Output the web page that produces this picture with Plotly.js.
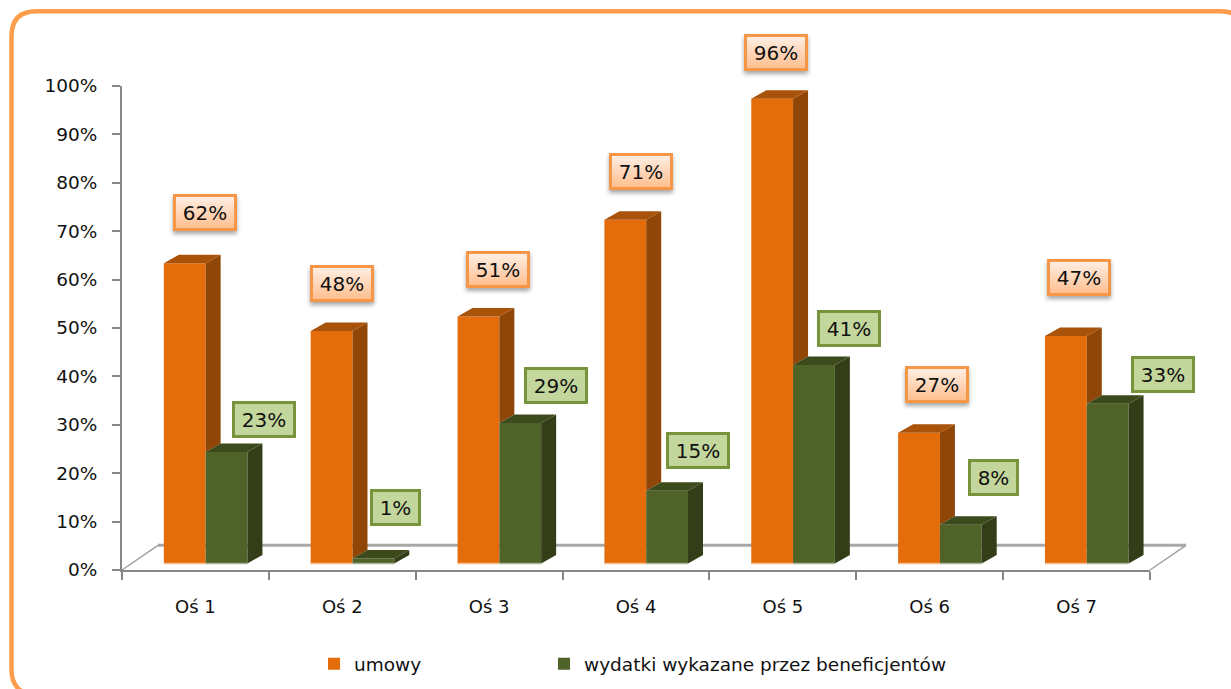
<!DOCTYPE html>
<html><head><meta charset="utf-8">
<script src="https://cdn.plot.ly/plotly-3.0.1.min.js"></script>
<style>
html,body{margin:0;padding:0;background:#fff;overflow:hidden}
#chart{width:1231px;height:689px}
g.annotation[data-index="0"] rect.bg,g.annotation[data-index="1"] rect.bg,g.annotation[data-index="2"] rect.bg,
g.annotation[data-index="3"] rect.bg,g.annotation[data-index="4"] rect.bg,g.annotation[data-index="5"] rect.bg,
g.annotation[data-index="6"] rect.bg{fill:url(#labelGrad)!important;filter:drop-shadow(0 3px 2px rgba(0,0,0,.35))}
</style></head><body>
<svg width="0" height="0" style="position:absolute"><defs>
<linearGradient id="labelGrad" x1="0" y1="0" x2="0" y2="1">
<stop offset="0" stop-color="#fff0e6"/><stop offset="1" stop-color="#ffbd8c"/></linearGradient></defs></svg>
<div id="chart"></div>
<script>
const categories=["Oś 1","Oś 2","Oś 3","Oś 4","Oś 5","Oś 6","Oś 7"];
const umowy=[62,48,51,71,96,27,47];
const wydatki=[23,1,29,15,41,8,33];
const seriesNames=["umowy","wydatki wykazane przez beneficjentów"];
const yTicks=[0,10,20,30,40,50,60,70,80,90,100];
const yTickLabels=["0%","10%","20%","30%","40%","50%","60%","70%","80%","90%","100%"];

// chart frame in pixels
const W=1231,H=689,L=122,R=1150,T=85.5,B=570.5;
const pxX=(R-L)/7, pxY=(B-T)/100;
const barPx=41.8, depthX=15/pxX, depthY=8.5/pxY, bw=barPx/pxX;
const shiftX=10.2/pxX, shiftY=6.6/pxY;
const idx=categories.map((_,i)=>i);

// label displacement from the top centre of its bar, pixels
const orangeShift=[[20,50.6],[10.5,47.5],[20,46.9],[15.7,47.9],[4.3,46.7],[17.9,48.3],[13.5,58.3]];
const greenShift=[[37.5,32.2],[22.6,51.4],[36.2,37.6],[30.8,40.5],[35.4,36.4],[33,47.5],[55.6,29.3]];

function poly(build){
  const xs=[],ys=[];
  idx.forEach(i=>{build(i).forEach(p=>{xs.push(p[0]);ys.push(p[1]);});xs.push(null);ys.push(null);});
  return {x:xs,y:ys};
}
function face(pts,color){
  return {type:'scatter',mode:'lines',xaxis:'x2',yaxis:'y2',x:pts.x,y:pts.y,fill:'toself',
    fillcolor:color,line:{width:0,color:color},showlegend:false,hoverinfo:'skip'};
}
function edge(pts,color){
  return {type:'scatter',mode:'lines',xaxis:'x2',yaxis:'y2',x:pts.x,y:pts.y,
    line:{width:1.5,color:color},showlegend:false,hoverinfo:'skip'};
}
const orangeSide=poly(i=>[[i,wydatki[i]],[i,umowy[i]],[i+depthX,umowy[i]+depthY],[i+depthX,wydatki[i]+depthY]]);
const orangeTop=poly(i=>[[i-bw,umowy[i]],[i,umowy[i]],[i+depthX,umowy[i]+depthY],[i-bw+depthX,umowy[i]+depthY]]);
const greenSide=poly(i=>[[i+bw,0],[i+bw,wydatki[i]],[i+bw+depthX,wydatki[i]+depthY],[i+bw+depthX,depthY]]);
const greenTop=poly(i=>[[i,wydatki[i]],[i+bw,wydatki[i]],[i+bw+depthX,wydatki[i]+depthY],[i+depthX,wydatki[i]+depthY]]);
const orangeBase=poly(i=>[[i-bw,0],[i,0]]);
const greenBase=poly(i=>[[i,0],[i+bw,0]]);

const traces=[
 {type:'scatter',mode:'markers',x:categories,y:categories.map(()=>0),marker:{opacity:0},showlegend:false,hoverinfo:'skip'},
 {type:'bar',name:seriesNames[0],x:idx,y:umowy,xaxis:'x2',yaxis:'y2',marker:{color:'#e46c0a'},width:bw,offset:-bw,hoverinfo:'skip',showlegend:true,legend:'legend'},
 {type:'bar',name:seriesNames[1],x:idx,y:wydatki,xaxis:'x2',yaxis:'y2',marker:{color:'#4f6228'},width:bw,offset:0,hoverinfo:'skip',showlegend:true,legend:'legend2'},
 face(orangeSide,'#8f4606'),face(orangeTop,'#a8520a'),
 face(greenSide,'#333d18'),face(greenTop,'#3c4a1c'),
 edge(orangeBase,'#f8bd8e'),edge(greenBase,'#a9b494')
];

function label(v,i,series,sh,bg,border,w){
  return {x:i+(series===0?-bw/2:bw/2),y:v,xref:'x2',yref:'y2',text:v+'%',showarrow:false,
    xshift:sh[0],yshift:sh[1],width:w,height:31,align:'center',valign:'middle',bgcolor:bg,
    bordercolor:border,borderwidth:3,borderpad:0,
    font:{family:'DejaVu Sans',size:20,color:'#111'}};
}
const annotations=[
 ...umowy.map((v,i)=>label(v,i,0,orangeShift[i],'#ffd5b8','#f79646',58)),
 ...wydatki.map((v,i)=>label(v,i,1,greenShift[i],'#c3d69b','#77933c',v<10?45:58))
];

const px=x=>(x-L)/(R-L), py=y=>(B-y)/(B-T);
const floorY=545.8, floorDx=36;
const floorLine=(x0,y0,x1,y1,c,w)=>({type:'line',xref:'paper',yref:'paper',layer:'below',
  x0:px(x0),y0:py(y0),x1:px(x1),y1:py(y1),line:{color:c,width:w}});
const rf=[11.5,10.5,1245,695,25];
const fp=(x,y)=>px(x).toFixed(5)+','+py(y).toFixed(5);
const framePath='M'+fp(rf[0]+rf[4],rf[1])+' L'+fp(rf[2]-rf[4],rf[1])+' Q'+fp(rf[2],rf[1])+' '+fp(rf[2],rf[1]+rf[4])+
 ' L'+fp(rf[2],rf[3]-rf[4])+' Q'+fp(rf[2],rf[3])+' '+fp(rf[2]-rf[4],rf[3])+
 ' L'+fp(rf[0]+rf[4],rf[3])+' Q'+fp(rf[0],rf[3])+' '+fp(rf[0],rf[3]-rf[4])+
 ' L'+fp(rf[0],rf[1]+rf[4])+' Q'+fp(rf[0],rf[1])+' '+fp(rf[0]+rf[4],rf[1])+' Z';

const legendFont={family:'DejaVu Sans',size:18.5,color:'#111'};
const layout={
 width:W,height:H,paper_bgcolor:'#fff',plot_bgcolor:'rgba(0,0,0,0)',
 margin:{l:L,r:W-R,t:T,b:H-B,pad:0,autoexpand:false},
 barmode:'overlay',
 xaxis:{type:'category',categoryorder:'array',categoryarray:categories,range:[-0.5,6.5],tickson:'boundaries',showgrid:false,zeroline:false,
   showline:true,linecolor:'#868686',linewidth:2,ticks:'outside',ticklen:8,tickwidth:2,tickcolor:'#868686',
   tickfont:{family:'DejaVu Sans',size:18,color:'#111'},ticklabelstandoff:19},
 yaxis:{range:[0,100],tickmode:'array',tickvals:yTicks,ticktext:yTickLabels,showgrid:false,zeroline:false,
   showline:true,linecolor:'#868686',linewidth:2,ticks:'outside',ticklen:8,tickwidth:2,tickcolor:'#868686',
   tickfont:{family:'DejaVu Sans',size:18.5,color:'#111'},ticklabelstandoff:11},
 xaxis2:{type:'linear',overlaying:'x',visible:false,range:[-0.5-shiftX,6.5-shiftX]},
 yaxis2:{type:'linear',overlaying:'y',visible:false,range:[-shiftY,100-shiftY]},
 showlegend:true,
 legend:{x:px(314),y:py(646),xanchor:'left',yanchor:'top',font:legendFont,bgcolor:'rgba(0,0,0,0)'},
 legend2:{x:px(544),y:py(646),xanchor:'left',yanchor:'top',font:legendFont,bgcolor:'rgba(0,0,0,0)'},
 shapes:[
  {type:'path',xref:'paper',yref:'paper',layer:'below',path:framePath,line:{color:'#fd9c4b',width:4.5},fillcolor:'rgba(0,0,0,0)'},
  floorLine(L+floorDx,floorY,R+floorDx,floorY,'#a8a8a8',3),
  floorLine(L,B,L+floorDx,floorY,'#a0a0a0',1.5),
  floorLine(R,B,R+floorDx,floorY,'#a0a0a0',1.5)
 ],
 annotations:annotations
};
Plotly.newPlot('chart',traces,layout,{displayModeBar:false,responsive:false});
</script></body></html>
